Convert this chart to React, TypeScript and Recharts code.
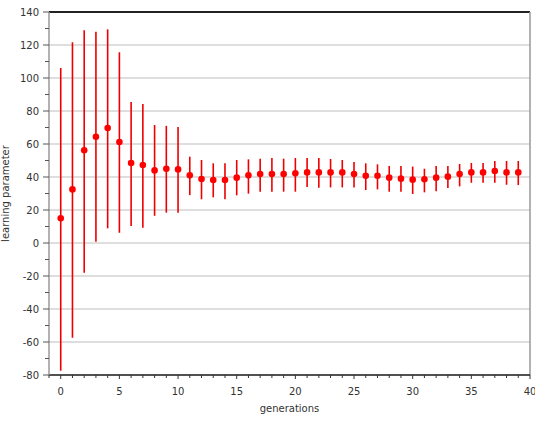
import React from "react";
import { ScatterChart, Scatter, XAxis, YAxis, CartesianGrid, ErrorBar, ReferenceLine } from "recharts";

const generations = [
  0, 1, 2, 3, 4, 5, 6, 7, 8, 9, 10, 11, 12, 13, 14, 15, 16, 17, 18, 19,
  20, 21, 22, 23, 24, 25, 26, 27, 28, 29, 30, 31, 32, 33, 34, 35, 36, 37, 38, 39,
];
const means = [
  15, 32.5, 56.2, 64.4, 69.7, 61.2, 48.5, 47.3, 44, 45, 44.6, 41, 38.8, 38.2, 38.2, 39.6, 41, 41.8, 41.8, 41.8,
  42.2, 42.8, 42.8, 42.8, 42.8, 41.8, 40.8, 40.8, 39.6, 39, 38.4, 38.6, 39.6, 40.2, 41.8, 42.8, 42.8, 43.6, 42.8, 42.8,
];
const lows = [
  -77.4, -57.4, -18, 0.8, 8.9, 6.2, 10.3, 9.3, 16.5, 18.4, 18.4, 29, 26.5, 27.7, 26.5, 28.9, 29.9, 31.1, 31.1, 31.1,
  31.1, 33.9, 33.5, 33.7, 33.7, 33.7, 32.1, 32.5, 31.1, 31.1, 29.7, 30.7, 31.3, 33.3, 34.3, 36.5, 36.5, 36.5, 35.3, 35.1,
];
const highs = [
  106, 121.6, 129, 128, 129.5, 115.6, 85.5, 84.2, 71.5, 71, 70.3, 52.3, 50.3, 48.3, 48.3, 50.3, 50.7, 51.1, 51.5, 51.1,
  51.5, 51.5, 51.5, 50.9, 50.3, 49.1, 48.3, 47.7, 46.7, 46.7, 46.3, 45, 46.7, 46.7, 47.9, 48.5, 48.5, 49.7, 49.7, 49.7,
];

const yMajorTicks = [-80, -60, -40, -20, 0, 20, 40, 60, 80, 100, 120];
const yTicks = [
  -80, -70, -60, -50, -40, -30, -20, -10, 0, 10, 20, 30, 40, 50, 60, 70, 80, 90, 100, 110, 120, 130, 140,
];
const xTicks = [
  -1, 0, 1, 2, 3, 4, 5, 6, 7, 8, 9, 10, 11, 12, 13, 14, 15, 16, 17, 18, 19, 20,
  21, 22, 23, 24, 25, 26, 27, 28, 29, 30, 31, 32, 33, 34, 35, 36, 37, 38, 39, 40,
];
const xMax = 40;
const yMax = 140;

const data = generations.map((g, i) => ({
  gen: g,
  value: means[i],
  err: [means[i] - lows[i], highs[i] - means[i]],
}));

const FONT = "'DejaVu Sans', sans-serif";
const TEXT = "#333";

const XTick = (props: any) => {
  const { x, y, payload } = props;
  const major = payload.value % 5 === 0;
  return (
    <g>
      <line x1={x} x2={x} y1={y} y2={y + (major ? 4 : 3)} stroke="#333" strokeWidth={1} />
      {major && (
        <text x={x} y={y + 20} textAnchor="middle" fontSize={10} fill={TEXT} fontFamily={FONT}>
          {payload.value}
        </text>
      )}
    </g>
  );
};

const YTick = (props: any) => {
  const { x, y, payload } = props;
  const major = payload.value % 20 === 0;
  return (
    <g>
      <line x1={x - (major ? 6 : 4)} x2={x} y1={y} y2={y} stroke="#555" strokeWidth={1} />
      {major && (
        <text x={x - 10} y={y + 3.5} textAnchor="end" fontSize={10} fill={TEXT} fontFamily={FONT}>
          {payload.value}
        </text>
      )}
    </g>
  );
};

const Dot = (props: any) => {
  const { cx, cy } = props;
  return <circle cx={cx} cy={cy} r={3.3} fill="#ff0000" />;
};

export default function App() {
  return (
    <div style={{ position: "absolute", left: 0, top: 0, background: "#fff" }}>
      <ScatterChart width={535} height={422} margin={{ top: 12, right: 5, bottom: 0, left: 0 }}>
        <CartesianGrid vertical={false} horizontalValues={yMajorTicks} stroke="#bdbdbd" strokeWidth={1} />
        <XAxis
          dataKey="gen"
          type="number"
          domain={[-1, 40]}
          ticks={xTicks}
          interval={0}
          tickSize={0}
          tickMargin={0}
          tick={<XTick />}
          axisLine={{ stroke: "#222", strokeWidth: 1.5 }}
          height={47}
          label={{
            content: (p: any) => {
              const vb = p.viewBox;
              return (
                <text x={vb.x + vb.width / 2} y={vb.y + 37} textAnchor="middle" fontSize={10} fill={TEXT} fontFamily={FONT}>
                  generations
                </text>
              );
            },
          }}
        />
        <YAxis
          dataKey="value"
          type="number"
          domain={[-80, 140]}
          ticks={yTicks}
          interval={0}
          tickSize={0}
          tickMargin={0}
          tick={<YTick />}
          axisLine={{ stroke: "#999", strokeWidth: 1.5 }}
          width={49}
          label={{
            content: (p: any) => {
              const vb = p.viewBox;
              const cy = vb.y + vb.height / 2;
              return (
                <text transform={`translate(9, ${cy}) rotate(-90)`} textAnchor="middle" fontSize={10} fill={TEXT} fontFamily={FONT}>
                  learning parameter
                </text>
              );
            },
          }}
        />
        <ReferenceLine y={yMax} stroke="#222" strokeWidth={2} />
        <ReferenceLine x={xMax} stroke="#999" strokeWidth={1.5} />
        <Scatter data={data} dataKey="value" fill="#ff0000" shape={<Dot />} isAnimationActive={false}>
          <ErrorBar dataKey="err" direction="y" width={0} stroke="#ee0000" strokeWidth={1.6} isAnimationActive={false} />
        </Scatter>
      </ScatterChart>
    </div>
  );
}
